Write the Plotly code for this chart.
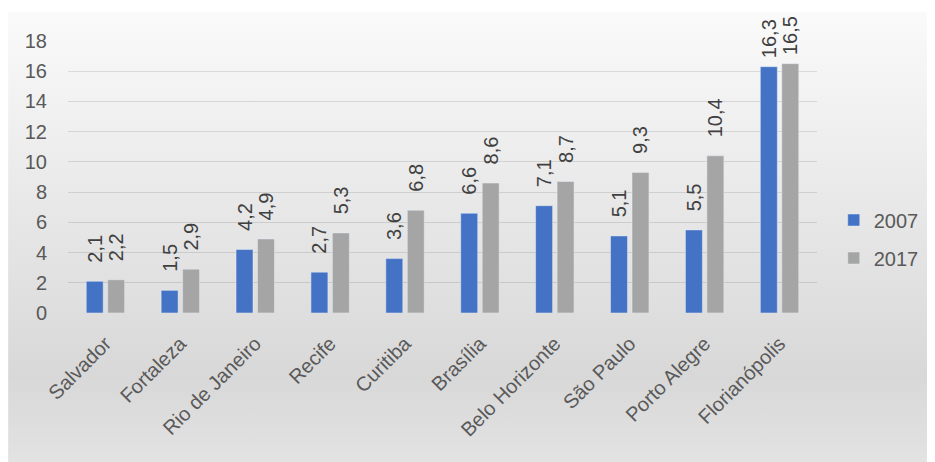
import base64
import plotly.graph_objects as go

cities = ["Salvador", "Fortaleza", "Rio de Janeiro", "Recife", "Curitiba",
          "Brasília", "Belo Horizonte", "São Paulo", "Porto Alegre", "Florianópolis"]
values_2007 = [2.1, 1.5, 4.2, 2.7, 3.6, 6.6, 7.1, 5.1, 5.5, 16.3]
values_2017 = [2.2, 2.9, 4.9, 5.3, 6.8, 8.6, 8.7, 9.3, 10.4, 16.5]
y_ticks = [0, 2, 4, 6, 8, 10, 12, 14, 16, 18]

FONT = "Liberation Sans, Arial, sans-serif"
# the page body has an 8px margin, so the figure is drawn 8px in from the window corner
W, H = 927, 454
ML, MR, MT, MB = 60, 117, 33, 149
PW, PH = W - ML - MR, H - MT - MB

svg = ('<svg xmlns="http://www.w3.org/2000/svg" width="100" height="100" preserveAspectRatio="none">'
       '<defs><linearGradient id="g" x1="0" y1="0" x2="0" y2="1">'
       '<stop offset="0" stop-color="#fafafa"/>'
       '<stop offset="0.8" stop-color="#d8d8d8"/>'
       '<stop offset="1" stop-color="#e3e3e3"/>'
       '</linearGradient></defs>'
       '<rect width="100" height="100" fill="url(#g)"/></svg>')
bg_src = "data:image/svg+xml;base64," + base64.b64encode(svg.encode()).decode()


def label(v):
    # leading spaces push the rotated label up off the bar; labels near the top are clamped
    pad = "\u00a0" if v > 15 else "\u2002\u00a0"
    return pad + f"{v:.1f}".replace(".", ",")


fig = go.Figure()
for name, vals, color, grp in [("2007", values_2007, "#4472C4", "a"),
                               ("2017", values_2017, "#A5A5A5", "b")]:
    fig.add_trace(go.Bar(
        name=name, x=cities, y=vals, marker_color=color,
        text=[label(v) for v in vals], textposition="outside", textangle=-90,
        constraintext="none",
        textfont=dict(family=FONT, size=20, color="#404040"),
        cliponaxis=False, legendgroup=grp))

fig.update_layout(
    width=W, height=H,
    margin=dict(l=ML, r=MR, t=MT, b=MB, pad=0),
    paper_bgcolor="white", plot_bgcolor="rgba(0,0,0,0)",
    separators=", ",
    barmode="group", bargap=0.427, bargroupgap=0.21,
    font=dict(family=FONT, size=20, color="#595959"),
    showlegend=True,
    legend=dict(x=1.021, xanchor="left", y=0.272, yanchor="middle",
                font=dict(family=FONT, size=20, color="#595959"),
                bgcolor="rgba(0,0,0,0)", traceorder="grouped", tracegroupgap=9),
    xaxis=dict(tickangle=-45, showgrid=False, showline=False, zeroline=False,
               ticks="outside", ticklen=10, tickcolor="rgba(0,0,0,0)",
               tickfont=dict(family=FONT, size=20, color="#595959")),
    yaxis=dict(range=[0, 18], tickvals=y_ticks, showline=False, zeroline=False,
               gridcolor="rgba(0,0,0,0.11)", gridwidth=1,
               ticks="outside", ticklen=16, tickcolor="rgba(0,0,0,0)",
               tickfont=dict(family=FONT, size=20, color="#595959")),
    images=[dict(source=bg_src, xref="paper", yref="paper",
                 x=(0 - ML) / PW, y=(H - MB - 4) / PH,
                 sizex=(W + 5) / PW, sizey=(H - 4 + 5) / PH,
                 sizing="stretch", xanchor="left", yanchor="top",
                 layer="below")],
)

fig.write_html("out.html")
